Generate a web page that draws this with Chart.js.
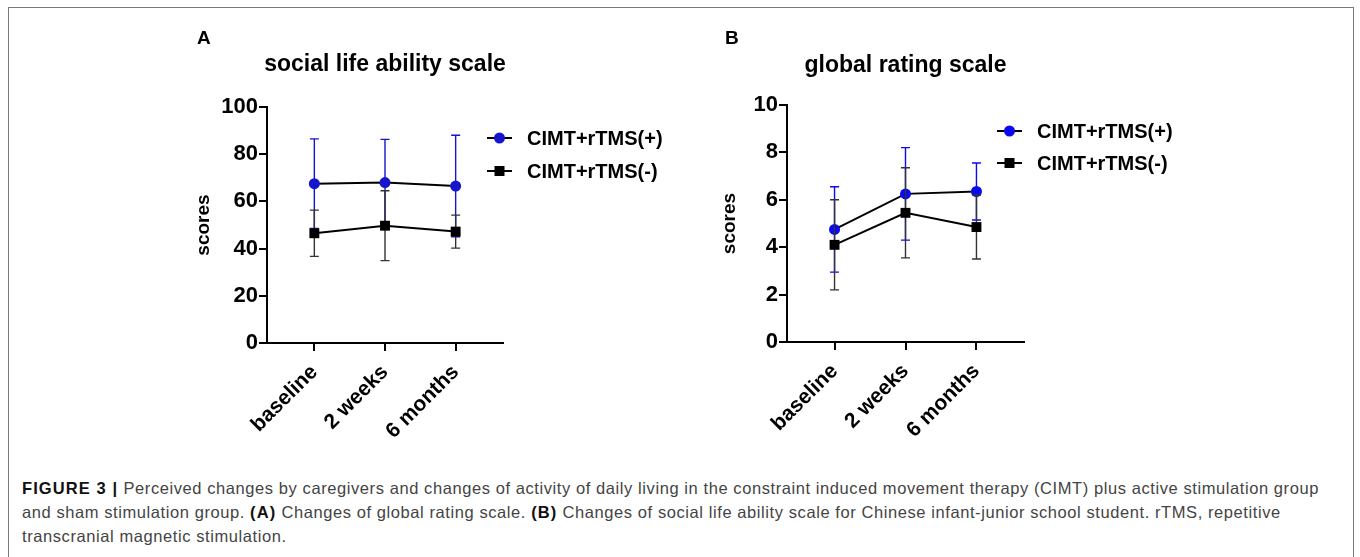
<!DOCTYPE html>
<html>
<head>
<meta charset="utf-8">
<script src="https://cdn.jsdelivr.net/npm/chart.js@4.4.0/dist/chart.umd.min.js"></script>
<style>
  html, body { margin:0; padding:0; background:#fff; width:1360px; height:557px; overflow:hidden; }
  #frame { position:absolute; left:8px; top:7px; width:1346px; height:600px; border:1.5px solid #7a7a7a; border-bottom:none; box-sizing:border-box; }
  canvas { position:absolute; }
  #cA { left:180px; top:20px; }
  #cB { left:700px; top:20px; }
  #caption { position:absolute; left:22px; top:476px; font-family:"Liberation Sans", Arial, sans-serif; font-size:16.5px; line-height:24px; color:#444; white-space:nowrap; letter-spacing:0.58px; }
  #caption b { color:#111; letter-spacing:1.1px; }
</style>
</head>
<body>
<div id="frame"></div>
<canvas id="cA" width="500" height="430"></canvas>
<canvas id="cB" width="500" height="430"></canvas>
<div id="caption"><b>FIGURE 3 |</b> Perceived changes by caregivers and changes of activity of daily living in the constraint induced movement therapy (CIMT) plus active stimulation group<br>and sham stimulation group. <b>(A)</b> Changes of global rating scale. <b>(B)</b> Changes of social life ability scale for Chinese infant-junior school student. rTMS, repetitive<br>transcranial magnetic stimulation.</div>
<script>
// ---- data ----
const categories = ['baseline', '2 weeks', '6 months'];
const seriesLabels = ['CIMT+rTMS(+)', 'CIMT+rTMS(-)'];

const socialPlus = [67.5, 68.0, 66.5];
const socialPlusSD = [19.0, 18.3, 21.5];
const socialMinus = [46.5, 49.7, 47.2];
const socialMinusSD = [9.8, 14.8, 7.0];
const socialTicks = [0, 20, 40, 60, 80, 100];

const globalPlus = [4.75, 6.25, 6.35];
const globalPlusSD = [1.8, 1.95, 1.2];
const globalMinus = [4.1, 5.45, 4.85];
const globalMinusSD = [1.9, 1.9, 1.35];
const globalTicks = [0, 2, 4, 6, 8, 10];

const FONT = '"Liberation Sans", Arial, sans-serif';

const errorBars = {
  id: 'errorBars',
  beforeDatasetDraw(chart, args) {
    const ds = chart.data.datasets[args.index];
    if (!ds.errors) return;
    const xs = chart.scales.x, ys = chart.scales.y, ctx = chart.ctx;
    ctx.save();
    ctx.strokeStyle = ds.errorColor;
    ctx.lineWidth = 1.4;
    ds.data.forEach((p, i) => {
      const px = xs.getPixelForValue(p.x);
      const hi = ys.getPixelForValue(p.y + ds.errors[i]);
      const lo = ys.getPixelForValue(p.y - ds.errors[i]);
      ctx.beginPath();
      ctx.moveTo(px, hi); ctx.lineTo(px, lo);
      ctx.moveTo(px - 4.5, hi); ctx.lineTo(px + 4.5, hi);
      ctx.moveTo(px - 4.5, lo); ctx.lineTo(px + 4.5, lo);
      ctx.stroke();
    });
    ctx.restore();
  }
};

const deco = {
  id: 'deco',
  afterDraw(chart, args, o) {
    const ctx = chart.ctx;
    ctx.save();
    ctx.fillStyle = '#000';
    ctx.textBaseline = 'alphabetic';
    ctx.font = 'bold 19px ' + FONT;
    ctx.textAlign = 'left';
    ctx.fillText(o.letter, o.letterX, o.letterY);
    ctx.font = 'bold 23px ' + FONT;
    ctx.textAlign = 'center';
    const ca = chart.chartArea;
    ctx.fillText(o.title, (ca.left + ca.right) / 2, o.titleY);
    // legend
    ctx.font = 'bold 20px ' + FONT;
    ctx.textAlign = 'left';
    ctx.textBaseline = 'middle';
    chart.data.datasets.forEach((ds, i) => {
      const y = o.legendY[i];
      ctx.strokeStyle = '#000';
      ctx.lineWidth = 2;
      ctx.beginPath();
      ctx.moveTo(o.legendX, y); ctx.lineTo(o.legendX + 25, y);
      ctx.stroke();
      ctx.fillStyle = ds.pointBackgroundColor;
      const cx = o.legendX + 12.5;
      if (ds.pointStyle === 'rect') {
        ctx.fillRect(cx - 5, y - 5, 10, 10);
      } else {
        ctx.beginPath(); ctx.arc(cx, y, 5.5, 0, Math.PI * 2); ctx.fill();
      }
      ctx.fillStyle = '#000';
      ctx.fillText(ds.label, o.legendX + 40, y + 1);
    });
    ctx.restore();
  }
};

function makeChart(id, plus, plusSD, minus, minusSD, ticks, blue, deco, pad, titlePad) {
  const toPts = arr => arr.map((v, i) => ({ x: i, y: v }));
  return new Chart(document.getElementById(id), {
    type: 'line',
    data: {
      datasets: [
        { label: seriesLabels[0], data: toPts(plus), errors: plusSD, errorColor: blue,
          borderColor: '#000', borderWidth: 2, pointStyle: 'circle', pointRadius: 5.5,
          pointBackgroundColor: blue, pointBorderColor: blue, pointBorderWidth: 0, order: 1 },
        { label: seriesLabels[1], data: toPts(minus), errors: minusSD, errorColor: '#333',
          borderColor: '#000', borderWidth: 2, pointStyle: 'rect', pointRadius: 7,
          pointBackgroundColor: '#000', pointBorderColor: '#000', pointBorderWidth: 0, order: 0 }
      ]
    },
    options: {
      responsive: false, animation: false, devicePixelRatio: 1,
      layout: { padding: pad },
      plugins: { legend: { display: false }, tooltip: { enabled: false }, title: { display: false }, deco: deco },
      scales: {
        x: {
          type: 'linear', min: -0.67, max: 2.67,
          afterBuildTicks: s => { s.ticks = categories.map((c, i) => ({ value: i })); },
          afterFit: s => { s.height = 100; },
          border: { color: '#000', width: 2 },
          grid: { drawOnChartArea: false, drawTicks: true, tickLength: 8, color: '#000', lineWidth: 2 },
          ticks: { autoSkip: false, minRotation: 45, maxRotation: 45, padding: 9, color: '#000',
                   font: { family: FONT, size: 21, weight: 'bold' },
                   callback: v => categories[v] }
        },
        y: {
          min: ticks[0], max: ticks[ticks.length - 1],
          afterBuildTicks: s => { s.ticks = ticks.map(v => ({ value: v })); },
          afterFit: s => { s.width = 87; },
          border: { color: '#000', width: 2 },
          grid: { drawOnChartArea: false, drawTicks: true, tickLength: 8, color: '#000', lineWidth: 2 },
          ticks: { padding: 1, color: '#000', font: { family: FONT, size: 22, weight: 'bold' } },
          title: { display: true, text: 'scores', color: '#000', padding: { top: titlePad, bottom: 0 },
                   font: { family: FONT, size: 19, weight: 'bold' } }
        }
      }
    },
    plugins: [errorBars]
  });
}

Chart.register(deco);

makeChart('cA', socialPlus, socialPlusSD, socialMinus, socialMinusSD, socialTicks, '#1515cc',
  { letter: 'A', letterX: 17, letterY: 24, title: 'social life ability scale', titleY: 51,
    legendX: 307, legendY: [118, 151] },
  { left: 0, top: 87, right: 177, bottom: 7 }, 12);

makeChart('cB', globalPlus, globalPlusSD, globalMinus, globalMinusSD, globalTicks, '#0a0aee',
  { letter: 'B', letterX: 25, letterY: 24, title: 'global rating scale', titleY: 52,
    legendX: 297, legendY: [111, 143] },
  { left: 0, top: 85, right: 176, bottom: 8 }, 18);
</script>
</body>
</html>
